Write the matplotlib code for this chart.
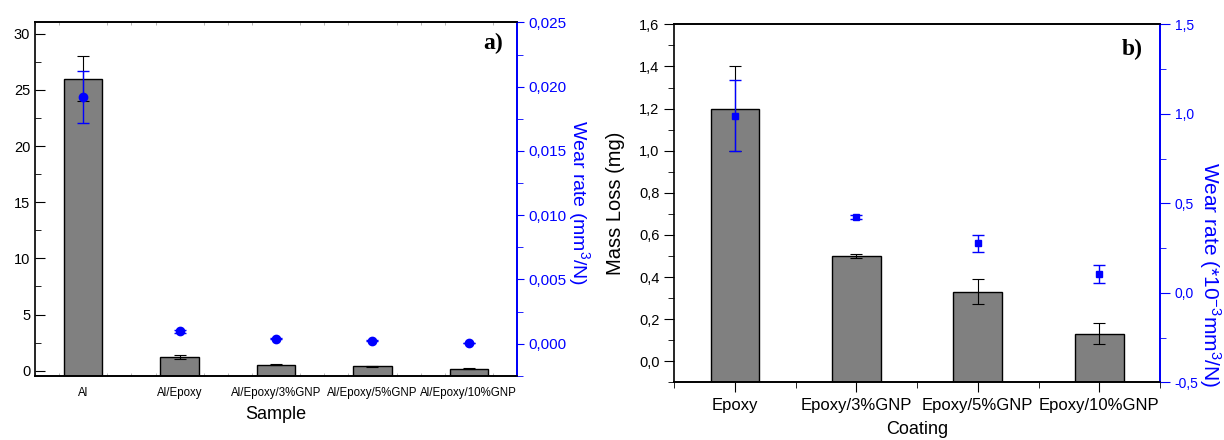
import numpy as np
import matplotlib
matplotlib.use("Agg")
import matplotlib.pyplot as plt
from matplotlib.ticker import FuncFormatter, MultipleLocator

plt.rcParams['font.family'] = ['Liberation Sans', 'DejaVu Sans']
plt.rcParams['mathtext.fontset'] = 'custom'
plt.rcParams['mathtext.rm'] = 'Liberation Sans'
plt.rcParams['mathtext.default'] = 'regular'

# a) samples on Al substrate
samples = ["Al", "Al/Epoxy", "Al/Epoxy/3%GNP", "Al/Epoxy/5%GNP", "Al/Epoxy/10%GNP"]
mass_a = [26.0, 1.24, 0.53, 0.39, 0.18]
mass_a_err = [2.0, 0.2, 0.03, 0.03, 0.03]
wear_a = [0.0192, 0.00096, 0.00039, 0.00023, 0.00005]
wear_a_err = [0.002, 0.0001, 0.00003, 0.00003, 0.00003]

# b) coatings
coatings = ["Epoxy", "Epoxy/3%GNP", "Epoxy/5%GNP", "Epoxy/10%GNP"]
mass_b = [1.2, 0.5, 0.33, 0.13]
mass_b_err = [0.2, 0.01, 0.06, 0.05]
wear_b = [0.99, 0.425, 0.276, 0.106]
wear_b_err = [0.2, 0.01, 0.05, 0.05]

BLUE = "#0000ff"
GREY = "#808080"


def comma(fmt):
    return FuncFormatter(lambda v, p: (fmt % v).replace(".", ","))


fig = plt.figure(figsize=(12.24, 4.40), dpi=100)

# ---------- panel a ----------
ax1 = fig.add_axes([0.0286, 0.146, 0.3938, 0.803])
x1 = np.arange(len(samples))
ylo_a = -0.45
# Origin draws the bars from the bottom of the axis
ax1.bar(x1, np.array(mass_a) - ylo_a, bottom=ylo_a, width=0.4, color=GREY,
        edgecolor="black", linewidth=1, zorder=2)
ax1.errorbar(x1, mass_a, yerr=mass_a_err, fmt="none", ecolor="black",
             elinewidth=0.8, capsize=4, capthick=0.8, zorder=3)
ax1.set_xlim(-0.5, 4.5)
ax1.set_ylim(ylo_a, 31)
ax1.set_xticks(x1)
ax1.set_xticklabels(samples, fontsize=8.3)
ax1.xaxis.set_minor_locator(MultipleLocator(0.25))
ax1.tick_params(axis="x", which="major", length=0, pad=8)
ax1.tick_params(axis="x", which="minor", direction="in", length=2,
                color="#aaaaaa", top=True, bottom=True)
ax1.yaxis.set_major_locator(MultipleLocator(5))
ax1.yaxis.set_minor_locator(MultipleLocator(2.5))
ax1.tick_params(axis="y", which="major", direction="in", length=7, labelsize=10.5)
ax1.tick_params(axis="y", which="minor", direction="in", length=4)
ax1.set_xlabel("Sample", fontsize=13, labelpad=5)
for s in ax1.spines.values():
    s.set_linewidth(1.2)

ax1r = ax1.twinx()
ax1r.errorbar(x1, wear_a, yerr=wear_a_err, fmt="o", color=BLUE, ms=6,
              ecolor=BLUE, elinewidth=1, capsize=4, capthick=1, zorder=4)
ax1r.set_ylim(-0.0025, 0.025)
ax1r.yaxis.set_major_locator(MultipleLocator(0.005))
ax1r.yaxis.set_minor_locator(MultipleLocator(0.0025))
ax1r.yaxis.set_major_formatter(comma("%.3f"))
ax1r.tick_params(axis="y", which="major", direction="out", length=5,
                 colors=BLUE, labelsize=11)
ax1r.tick_params(axis="y", which="minor", direction="out", length=4, colors=BLUE)
ax1r.spines["right"].set_color(BLUE)
ax1r.spines["right"].set_linewidth(1.4)
ax1r.spines["left"].set_visible(False)
ax1r.spines["top"].set_linewidth(1.2)
ax1r.spines["bottom"].set_linewidth(1.2)
ax1r.set_ylabel("Wear rate (mm$^3$/N)", color=BLUE, fontsize=14, rotation=-90)
ax1r.yaxis.set_label_coords(1.155, 0.49)
ax1r.text(0.97, 0.94, "a)", transform=ax1r.transAxes, ha="right", va="center",
          fontsize=17, fontweight="bold", family="Liberation Serif")

# ---------- panel b ----------
ax2 = fig.add_axes([0.5507, 0.131, 0.397, 0.8136])
x2 = np.arange(len(coatings))
ylo_b = -0.1
ax2.bar(x2, np.array(mass_b) - ylo_b, bottom=ylo_b, width=0.4, color=GREY,
        edgecolor="black", linewidth=1, zorder=2)
ax2.errorbar(x2, mass_b, yerr=mass_b_err, fmt="none", ecolor="black",
             elinewidth=0.8, capsize=4, capthick=0.8, zorder=3)
ax2.set_xlim(-0.5, 3.5)
ax2.set_ylim(ylo_b, 1.6)
ax2.set_xticks(x2)
ax2.set_xticklabels(coatings, fontsize=12)
ax2.xaxis.set_minor_locator(MultipleLocator(0.5))
ax2.tick_params(axis="x", which="major", direction="out", length=7, top=False, pad=4)
ax2.tick_params(axis="x", which="minor", direction="out", length=4, top=False)
ax2.yaxis.set_major_locator(MultipleLocator(0.2))
ax2.yaxis.set_minor_locator(MultipleLocator(0.1))
ax2.yaxis.set_major_formatter(comma("%.1f"))
ax2.tick_params(axis="y", which="major", direction="out", length=7, labelsize=10.5)
ax2.tick_params(axis="y", which="minor", direction="out", length=4)
ax2.set_xlabel("Coating", fontsize=13, labelpad=6)
ax2.set_ylabel("Mass Loss (mg)", fontsize=14.5)
ax2.yaxis.set_label_coords(-0.1, 0.5)
for s in ax2.spines.values():
    s.set_linewidth(1.2)

ax2r = ax2.twinx()
ax2r.errorbar(x2, wear_b, yerr=wear_b_err, fmt="s", color=BLUE, ms=5,
              ecolor=BLUE, elinewidth=1, capsize=4, capthick=1, zorder=4)
ax2r.set_ylim(-0.5, 1.5)
ax2r.tick_params(axis="x", which="both", bottom=False, top=True,
                 labelbottom=False, labeltop=False, direction="in")
ax2r.tick_params(axis="x", which="major", length=7)
ax2r.tick_params(axis="x", which="minor", length=4)
ax2r.yaxis.set_major_locator(MultipleLocator(0.5))
ax2r.yaxis.set_minor_locator(MultipleLocator(0.25))
ax2r.yaxis.set_major_formatter(comma("%.1f"))
ax2r.tick_params(axis="y", which="major", direction="out", length=7,
                 colors=BLUE, labelsize=10)
ax2r.tick_params(axis="y", which="minor", direction="out", length=4, colors=BLUE)
ax2r.spines["right"].set_color(BLUE)
ax2r.spines["right"].set_linewidth(1.4)
ax2r.spines["left"].set_visible(False)
ax2r.spines["top"].set_linewidth(1.2)
ax2r.spines["bottom"].set_linewidth(1.2)
ax2r.set_ylabel("Wear rate (*10$^{-3}$mm$^3$/N)", color=BLUE, fontsize=15, rotation=-90)
ax2r.yaxis.set_label_coords(1.13, 0.30)
ax2r.text(0.965, 0.93, "b)", transform=ax2r.transAxes, ha="right", va="center",
          fontsize=17, fontweight="bold", family="Liberation Serif")

fig.savefig("out.png", dpi=100)
